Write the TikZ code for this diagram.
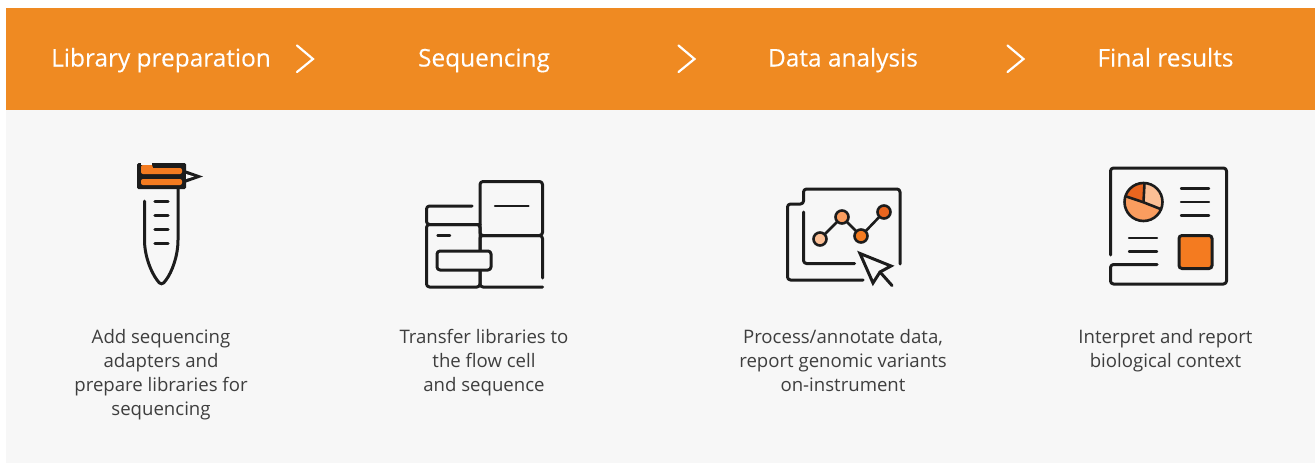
\documentclass[tikz,border=0pt]{standalone}
\usepackage{fontspec}
\setmainfont{Open Sans}
\newfontfamily\hdrfont[FakeBold=0.2]{Open Sans}
\definecolor{hdr}{HTML}{EF8A22}
\definecolor{panel}{HTML}{F7F7F7}
\definecolor{ink}{HTML}{1C1C1C}
\definecolor{body}{HTML}{3E3E3E}
\definecolor{orng}{HTML}{F47B20}
\definecolor{odark}{HTML}{E8651F}
\definecolor{olight}{HTML}{FBBF95}
\definecolor{omid}{HTML}{FA9D5F}
\tikzset{x=1pt,y=-1pt,
  hdrtext/.style={text=white,font=\hdrfont\fontsize{24.4}{28}\selectfont,inner sep=0pt,anchor=base},
  bodytext/.style={text=body,font=\fontsize{18.6}{24}\selectfont,align=center,inner sep=0pt,anchor=north},
  chev/.style={draw=white,line width=2.2pt,line cap=round,line join=miter},
  ic/.style={draw=ink,line width=3pt,line cap=round,line join=round,rounded corners=3pt},
  icthin/.style={draw=ink,line width=2.4pt,line cap=round},
  dot/.style={circle,draw=ink,line width=2.6pt,minimum size=13pt,inner sep=0pt}}
\begin{document}
\begin{tikzpicture}
\useasboundingbox (0,0) rectangle (1315,463);
\fill[hdr] (6,8) rectangle (1315,110);
\fill[panel] (6,110) rectangle (1315,463);
% header
\node[hdrtext] (h1) at (161,66.5) {Library preparation};
\node[hdrtext] (h2) at (484,66.5) {Sequencing};
\node[hdrtext] (h3) at (843,66.5) {Data analysis};
\node[hdrtext] (h4) at (1165.5,66.5) {Final results};
\draw[chev] (297,45.5) -- (313,59) -- (297,72);
\draw[chev] (678.5,45.5) -- (694.5,59) -- (678.5,72);
\draw[chev] (1007.5,45.5) -- (1023.5,59) -- (1007.5,72);
% body
\node[bodytext] (b1) at (161,329.5) {Add sequencing\\adapters and\\prepare libraries for\\sequencing};
\node[bodytext] (b2) at (484,329.5) {Transfer libraries to\\the flow cell\\and sequence};
\node[bodytext] (b3) at (843,329.5) {Process/annotate data,\\report genomic variants\\on-instrument};
\node[bodytext] (b4) at (1165.5,329.5) {Interpret and report\\biological context};
% tube icon
\fill[ink,rounded corners=1.5pt] (137,163) -- (186,163) -- (186,189) -- (137,189) -- cycle;
\fill[panel] (141,162) rectangle (152,165);
\fill[ink] (186,170.5) -- (203,176.5) -- (186,182.5) -- cycle;
\fill[panel] (186,174) -- (194,176.5) -- (186,179) -- cycle;
\fill[orng] (141,165) -- (152,165) -- (153,168) -- (180,168) [rounded corners=2pt] -- (182,168) -- (182,174) -- (141,174) -- cycle;
\fill[orng,rounded corners=2pt] (141,179) rectangle (182,185);
\draw[ink,line width=3pt,line cap=round] (144.5,201) -- (144.5,240) .. controls (144.5,256) and (151,272) .. (157,280) .. controls (160,285) and (163,285) .. (166,280) .. controls (172,272) and (178,256) .. (178,240) -- (178,189);
\foreach \ty in {201.5,215.5,229.5,243.5}
  \draw[ink,line width=3.2pt,line cap=round] (155,\ty) -- (168,\ty);
% sequencer icon
\draw[ic] (472,206) -- (426.5,206) -- (426.5,224.5) -- (480,224.5);
\draw[ic] (426.5,224.5) rectangle (480,287);
\draw[ic] (480,181.5) rectangle (542.5,235.5);
\draw[ic] (542.5,278) -- (542.5,235.5) -- (480,235.5) -- (480,287) -- (542.5,287);
\draw[ic,fill=panel] (437,251) rectangle (491,270);
\draw[icthin] (437.5,235.5) -- (450,235.5);
\draw[icthin] (495,206) -- (528.5,206);
% chart icon
\draw[ic] (863,280) -- (787.5,280) -- (787.5,204) -- (803.5,204) -- (803.5,189) -- (900,189) -- (900,264);
\draw[ic] (803.5,212) -- (803.5,263.5) -- (854.5,263.5);
\draw[ink,line width=2.6pt] (820,239) -- (842,217) -- (861,236) -- (884,212);
\node[dot,fill=olight] (p1) at (820,239) {};
\node[dot,fill=omid] (p2) at (842,217) {};
\node[dot,fill=orng] (p3) at (861,236) {};
\node[dot,fill=odark] (p4) at (884,212) {};
\draw[ink,line width=3pt,line join=miter,fill=panel] (860,253.5) -- (891,266) -- (880,272) -- (873,283) -- cycle;
\draw[ink,line width=3pt,line cap=round] (880,272) -- (892,285.5);
% report icon
\draw[ic] (1110.5,255) -- (1110.5,168) -- (1226.5,168) -- (1226.5,284) -- (1110.5,284) -- (1110.5,264.5) -- (1157,264.5);
\begin{scope}
\clip (1143.5,202) circle (19);
\fill[omid] (1120,178) rectangle (1170,226);
\fill[olight] (1143.5,202) -- (1145,175) -- (1170,175) -- (1170,212) -- cycle;
\fill[odark] (1143.5,202) -- (1118,193.5) -- (1118,175) -- (1145,175) -- cycle;
\end{scope}
\draw[ink,line width=2.6pt] (1143.5,202) circle (19);
\draw[ink,line width=2.6pt] (1124.8,196) -- (1143.5,202.3) -- (1160.5,209);
\draw[ink,line width=2.6pt] (1144.5,183) -- (1143.5,202);
\foreach \ly in {188.5,202,215.5}
  \draw[icthin] (1181,\ly) -- (1209,\ly);
\foreach \ly in {238,251.5}
  \draw[icthin] (1129,\ly) -- (1157,\ly);
\draw[draw=ink,fill=orng,line width=3pt,rounded corners=3pt] (1179,235.5) rectangle (1212,268.5);
\end{tikzpicture}
\end{document}
